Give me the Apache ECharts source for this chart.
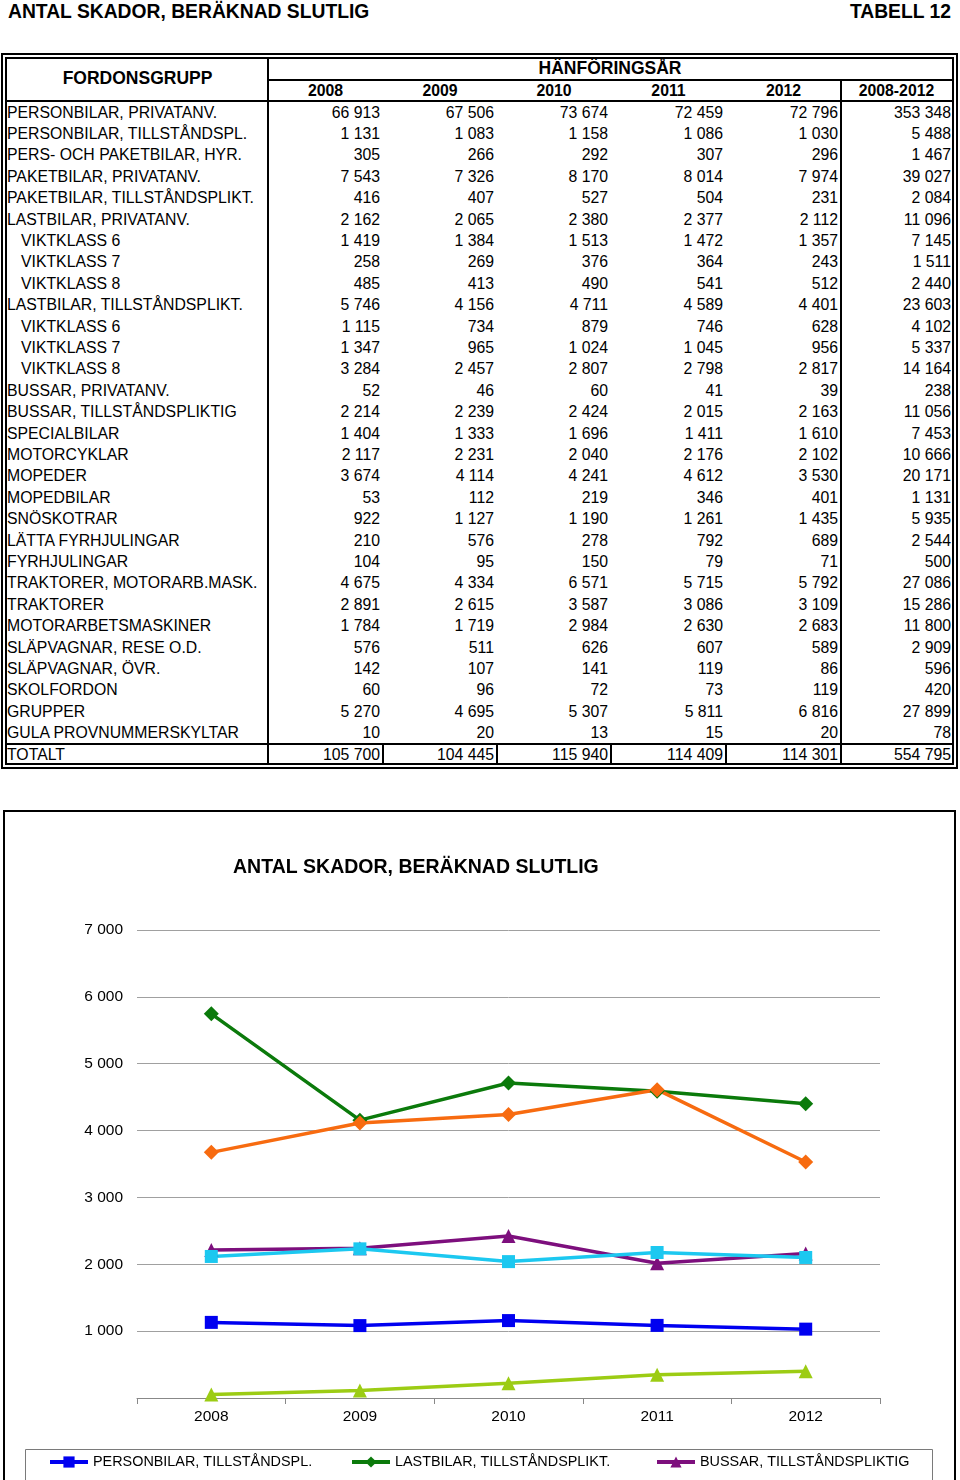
<!DOCTYPE html>
<html>
<head>
<meta charset="utf-8">
<script src="https://cdn.jsdelivr.net/npm/echarts@6/dist/echarts.min.js"></script>
<style>
  html, body { margin:0; padding:0; background:#fff; }
  body { width:960px; height:1480px; overflow:hidden; position:relative; font-family:"Liberation Sans", Arial, Helvetica, sans-serif; color:#000; }
  .t { position:absolute; white-space:nowrap; }
  .ln { position:absolute; background:#000; }
</style>
</head>
<body>
<div id="page"></div>
<div id="frame" style="position:absolute;left:3px;top:810px;width:953px;height:720px;border:2px solid #000;box-sizing:border-box;"></div>
<div id="chart" style="position:absolute;left:0;top:810px;width:960px;height:670px;"></div>
<script>
// ---------------- DATA ----------------
const pageTitle = 'ANTAL SKADOR, BERÄKNAD SLUTLIG';
const tableNo = 'TABELL 12';
const groupHeader = 'FORDONSGRUPP';
const yearHeader = 'HÄNFÖRINGSÅR';
const years = ['2008', '2009', '2010', '2011', '2012'];
const sumHeader = '2008-2012';

const rowLabels = [
  'PERSONBILAR, PRIVATANV.', 'PERSONBILAR, TILLSTÅNDSPL.', 'PERS- OCH PAKETBILAR, HYR.',
  'PAKETBILAR, PRIVATANV.', 'PAKETBILAR, TILLSTÅNDSPLIKT.', 'LASTBILAR, PRIVATANV.',
  'VIKTKLASS 6', 'VIKTKLASS 7', 'VIKTKLASS 8', 'LASTBILAR, TILLSTÅNDSPLIKT.',
  'VIKTKLASS 6', 'VIKTKLASS 7', 'VIKTKLASS 8', 'BUSSAR, PRIVATANV.',
  'BUSSAR, TILLSTÅNDSPLIKTIG', 'SPECIALBILAR', 'MOTORCYKLAR', 'MOPEDER', 'MOPEDBILAR',
  'SNÖSKOTRAR', 'LÄTTA FYRHJULINGAR', 'FYRHJULINGAR', 'TRAKTORER, MOTORARB.MASK.',
  'TRAKTORER', 'MOTORARBETSMASKINER', 'SLÄPVAGNAR, RESE O.D.', 'SLÄPVAGNAR, ÖVR.',
  'SKOLFORDON', 'GRUPPER', 'GULA PROVNUMMERSKYLTAR', 'TOTALT'
];
const v2008 = [66913, 1131, 305, 7543, 416, 2162, 1419, 258, 485, 5746, 1115, 1347, 3284, 52, 2214, 1404, 2117, 3674, 53, 922, 210, 104, 4675, 2891, 1784, 576, 142, 60, 5270, 10, 105700];
const v2009 = [67506, 1083, 266, 7326, 407, 2065, 1384, 269, 413, 4156, 734, 965, 2457, 46, 2239, 1333, 2231, 4114, 112, 1127, 576, 95, 4334, 2615, 1719, 511, 107, 96, 4695, 20, 104445];
const v2010 = [73674, 1158, 292, 8170, 527, 2380, 1513, 376, 490, 4711, 879, 1024, 2807, 60, 2424, 1696, 2040, 4241, 219, 1190, 278, 150, 6571, 3587, 2984, 626, 141, 72, 5307, 13, 115940];
const v2011 = [72459, 1086, 307, 8014, 504, 2377, 1472, 364, 541, 4589, 746, 1045, 2798, 41, 2015, 1411, 2176, 4612, 346, 1261, 792, 79, 5715, 3086, 2630, 607, 119, 73, 5811, 15, 114409];
const v2012 = [72796, 1030, 296, 7974, 231, 2112, 1357, 243, 512, 4401, 628, 956, 2817, 39, 2163, 1610, 2102, 3530, 401, 1435, 689, 71, 5792, 3109, 2683, 589, 86, 119, 6816, 20, 114301];
const vSum  = [353348, 5488, 1467, 39027, 2084, 11096, 7145, 1511, 2440, 23603, 4102, 5337, 14164, 238, 11056, 7453, 10666, 20171, 1131, 5935, 2544, 500, 27086, 15286, 11800, 2909, 596, 420, 27899, 78, 554795];

const chartTitle = 'ANTAL SKADOR, BERÄKNAD SLUTLIG';
const chartSeriesNames = ['PERSONBILAR, TILLSTÅNDSPL.', 'LASTBILAR, TILLSTÅNDSPLIKT.', 'BUSSAR, TILLSTÅNDSPLIKTIG', 'MOTORCYKLAR', 'MOPEDER', 'MOPEDBILAR'];
const yTicks = [0, 1000, 2000, 3000, 4000, 5000, 6000, 7000];

// ---------------- TABLE ----------------
const FONT = '"Liberation Sans", Arial, Helvetica, sans-serif';
const fmt = n => String(n).replace(/\B(?=(\d{3})+(?!\d))/g, ' ');
const page = document.getElementById('page');
function txt(s, css) {
  const d = document.createElement('div');
  d.className = 't';
  d.textContent = s;
  Object.assign(d.style, css);
  page.appendChild(d);
  return d;
}
function line(x, y, w, h) {
  const d = document.createElement('div');
  d.className = 'ln';
  Object.assign(d.style, { left: x + 'px', top: y + 'px', width: w + 'px', height: h + 'px' });
  page.appendChild(d);
}
// page title
txt(pageTitle, { left: '8px', top: '1px', fontSize: '19.3px', fontWeight: 'bold', lineHeight: '22px' });
txt(tableNo, { right: '9px', top: '1px', fontSize: '19.3px', fontWeight: 'bold', lineHeight: '22px' });

// outer double border
const box = document.createElement('div');
Object.assign(box.style, { position: 'absolute', left: '1px', top: '53px', width: '957px', height: '716px', border: '6px double #000', boxSizing: 'border-box' });
page.appendChild(box);

const edges = [7, 268, 383, 497, 611, 726, 841, 952];
// header
txt(groupHeader, { left: '7px', width: '261px', textAlign: 'center', top: '67px', fontSize: '17.5px', fontWeight: 'bold', lineHeight: '22px' });
txt(yearHeader, { left: '268px', width: '684px', textAlign: 'center', top: '57px', fontSize: '17.5px', fontWeight: 'bold', lineHeight: '22px' });
const hdrs = years.concat([sumHeader]);
hdrs.forEach((h, i) => {
  txt(h, { left: edges[i + 1] + 'px', width: (edges[i + 2] - edges[i + 1]) + 'px', textAlign: 'center', top: '80px', fontSize: '15.8px', fontWeight: 'bold', lineHeight: '21px' });
});
// rows
const cols = [v2008, v2009, v2010, v2011, v2012, vSum];
rowLabels.forEach((lab, r) => {
  const cy = 112 + r * 21.4;
  const top = (cy - 10.5) + 'px';
  const indent = lab.indexOf('VIKTKLASS') === 0 ? 14 : 0;
  txt(lab, { left: (7 + indent) + 'px', top: top, fontSize: '15.8px', lineHeight: '21px' });
  cols.forEach((arr, c) => {
    const right = edges[c + 2] - (c === 5 ? 1 : 3);
    txt(fmt(arr[r]), { right: (960 - right) + 'px', top: top, fontSize: '15.8px', lineHeight: '21px' });
  });
});
// grid lines
line(267, 59, 2, 704);
line(268, 79, 684, 2);
line(7, 100, 945, 2);
line(840, 79, 2, 684);
line(7, 743, 945, 2);
[383, 497, 611, 726].forEach(x => line(x - 1, 743, 2, 20));

// ---------------- CHART ----------------
const chart = echarts.init(document.getElementById('chart'), null, { renderer: 'canvas' });
const styles = [
  { color: '#0000f0', symbol: 'rect', size: 13 },
  { color: '#0b7a0b', symbol: 'diamond', size: 15 },
  { color: '#7d0f7d', symbol: 'triangle', size: 14 },
  { color: '#1cc8f0', symbol: 'rect', size: 13 },
  { color: '#f76b10', symbol: 'diamond', size: 15 },
  { color: '#9ccc14', symbol: 'triangle', size: 14 }
];
const series = chartSeriesNames.map((name, i) => {
  const r = rowLabels.indexOf(name);
  return {
    name: name,
    type: 'line',
    data: [v2008[r], v2009[r], v2010[r], v2011[r], v2012[r]],
    symbol: styles[i].symbol,
    symbolSize: styles[i].size,
    showAllSymbol: true,
    lineStyle: { color: styles[i].color, width: 3.5 },
    itemStyle: { color: styles[i].color, borderWidth: 0 },
    emphasis: { disabled: true }
  };
});
const legendLefts = [48, 350, 655, 48, 350, 655];
const legendTops = [645, 645, 645, 690, 690, 690];
const legends = chartSeriesNames.map((name, i) => ({
  data: [name],
  left: legendLefts[i],
  top: legendTops[i],
  padding: 0,
  itemWidth: 38,
  itemHeight: 14,
  selectedMode: false,
  lineStyle: { width: 4 },
  textStyle: { color: '#000', fontSize: 14.4, fontFamily: FONT }
}));

chart.setOption({
  animation: false,
  title: {
    text: chartTitle,
    left: 233,
    top: 48,
    padding: 0,
    textStyle: { color: '#000', fontSize: 19.5, fontWeight: 'bold', fontFamily: FONT }
  },
  grid: { left: 137, top: 120, width: 743, height: 468, containLabel: false },
  legend: legends,
  graphic: [{
    type: 'rect',
    shape: { x: 25.5, y: 639.5, width: 907, height: 80 },
    style: { fill: 'none', stroke: '#7a7a7a', lineWidth: 1 },
    silent: true
  }],
  xAxis: {
    type: 'category',
    data: years,
    boundaryGap: true,
    axisLine: { lineStyle: { color: '#888', width: 1 } },
    axisTick: { show: true, length: 6, lineStyle: { color: '#888' } },
    axisLabel: { color: '#000', fontSize: 15.5, fontFamily: FONT, margin: 11 }
  },
  yAxis: {
    type: 'value',
    min: yTicks[0],
    max: yTicks[yTicks.length - 1],
    interval: 1000,
    axisLine: { show: false },
    axisTick: { show: false },
    splitLine: { lineStyle: { color: '#a0a0a0', width: 1 } },
    axisLabel: {
      color: '#000', fontSize: 15.5, fontFamily: FONT, margin: 14,
      formatter: v => (v === 0 ? '' : fmt(v))
    }
  },
  series: series
});
</script>
</body>
</html>
